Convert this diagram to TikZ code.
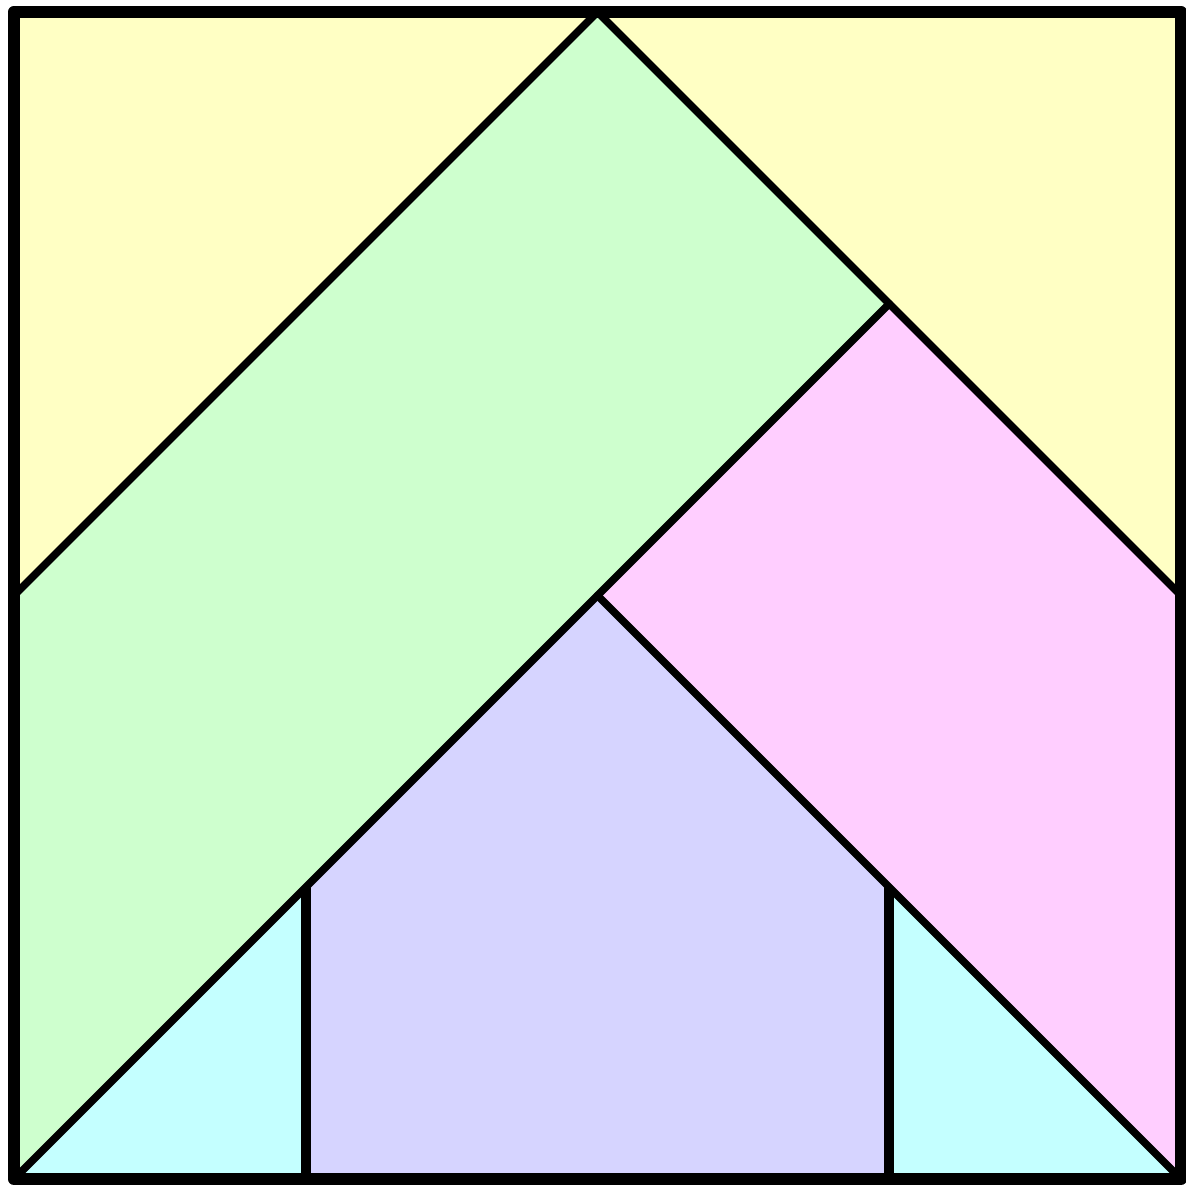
\documentclass[tikz,border=0pt]{standalone}
\definecolor{pyellow}{RGB}{255,255,196}
\definecolor{pgreen}{RGB}{206,255,206}
\definecolor{ppink}{RGB}{255,206,255}
\definecolor{plav}{RGB}{214,212,255}
\definecolor{pcyan}{RGB}{196,255,255}
\tikzset{
  cut/.style={line width=2.2pt, line cap=round},
  side/.style={line width=3pt},
  frame/.style={line width=3.6pt}
}

\begin{document}
\begin{tikzpicture}[x=3cm,y=3cm,line join=round]
  \useasboundingbox (-0.048,-0.024) rectangle (4.017,4.041);
  \coordinate (BL) at (0,0);
  \coordinate (BR) at (4,0);
  \coordinate (TR) at (4,4);
  \coordinate (TL) at (0,4);
  \coordinate (T)  at (2,4);
  \coordinate (L)  at (0,2);
  \coordinate (R)  at (4,2);
  \coordinate (M)  at (3,3);
  \coordinate (C)  at (2,2);
  \coordinate (P)  at (1,1);
  \coordinate (Q)  at (3,1);
  \coordinate (P0) at (1,0);
  \coordinate (Q0) at (3,0);
  % pieces
  \fill[pyellow] (TL) -- (T) -- (L) -- cycle;
  \fill[pyellow] (T) -- (TR) -- (R) -- (M) -- cycle;
  \fill[pgreen] (L) -- (T) -- (M) -- (BL) -- cycle;
  \fill[ppink] (M) -- (R) -- (BR) -- (C) -- cycle;
  \fill[plav] (C) -- (Q) -- (Q0) -- (P0) -- (P) -- cycle;
  \fill[pcyan] (BL) -- (P) -- (P0) -- cycle;
  \fill[pcyan] (Q) -- (BR) -- (Q0) -- cycle;
  % cuts
  \draw[cut] (L) -- (T) -- (R);
  \draw[cut] (M) -- (BL);
  \draw[cut] (C) -- (BR);
  \draw[side] (P) -- (P0);
  \draw[side] (Q) -- (Q0);
  \draw[frame] (BL) rectangle (TR);
\end{tikzpicture}
\end{document}
